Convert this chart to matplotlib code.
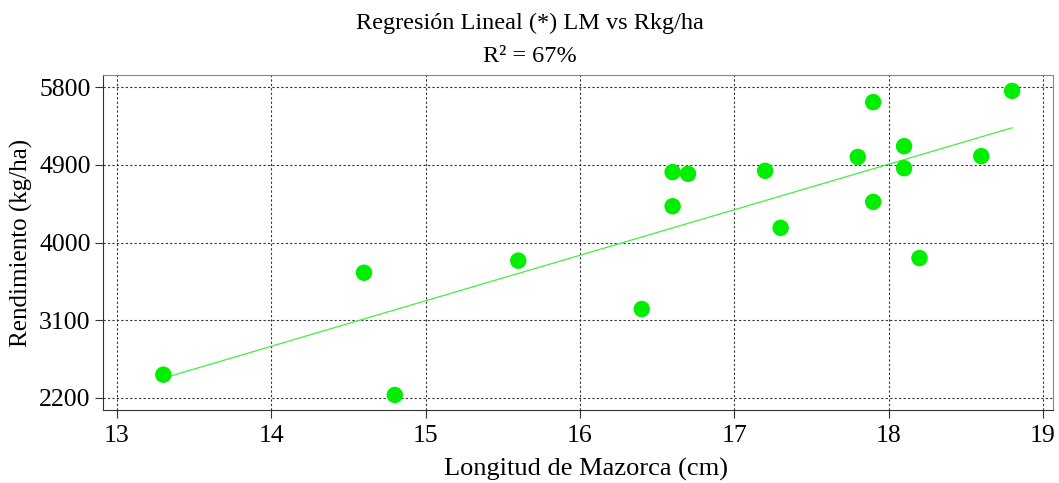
import numpy as np
import matplotlib
matplotlib.use("Agg")
import matplotlib.pyplot as plt

plt.rcParams['font.family'] = ['Liberation Serif', 'DejaVu Serif']

longitud = [13.3, 14.6, 14.8, 15.6, 16.4, 16.6, 16.6, 16.7, 17.2, 17.3,
            17.8, 17.9, 17.9, 18.1, 18.1, 18.2, 18.6, 18.8]
rendimiento = [2470, 3650, 2235, 3790, 3230, 4815, 4420, 4795, 4830, 4170,
               4990, 5625, 4470, 5115, 4860, 3820, 5000, 5755]
xticks = [13, 14, 15, 16, 17, 18, 19]
yticks = [2200, 3100, 4000, 4900, 5800]

fig = plt.figure(figsize=(10.59, 4.83), dpi=100)
ax = fig.add_axes([103/1059, 1-410/483, 950/1059, 335/483])

x = np.array(longitud)
y = np.array(rendimiento)
b, a = np.polyfit(x, y, 1)
xl = np.array([x.min(), x.max()])
ax.plot(xl, a + b*xl, color='#44ee44', lw=0.9, zorder=2)
ax.scatter(x, y, s=140, color='#00ee00', edgecolors='none', zorder=3)

ax.set_xlim(12.909, 19.065)
ax.set_ylim(2061, 5939)
ax.set_xticks(xticks)
ax.set_yticks(yticks)
ax.grid(True, linestyle=(0, (2, 2)), color='#333333', lw=0.8)
ax.set_axisbelow(True)
ax.tick_params(labelsize=18.5, direction='out', length=6, color='#333333')
ax.tick_params(axis='x', pad=5)
ax.tick_params(axis='y', pad=3)
for s in ['left', 'bottom']:
    ax.spines[s].set_color('#333333')
for s in ['top', 'right']:
    ax.spines[s].set_color('#888888')
ax.set_xlabel('Longitud de Mazorca (cm)', fontsize=19)
ax.xaxis.set_label_coords((586 - 103) / 950, -(481 - 410) / 335)
ax.xaxis.label.set_va('bottom')
ax.set_ylabel('Rendimiento (kg/ha)', fontsize=18, labelpad=4)
fig.text(0.5, 1-23/483, 'Regresión Lineal (*) LM vs Rkg/ha', ha='center', va='center', fontsize=17.5)
fig.text(0.5, 1-56/483, 'R² = 67%', ha='center', va='center', fontsize=17.5)

fig.savefig('out.png', dpi=100)
